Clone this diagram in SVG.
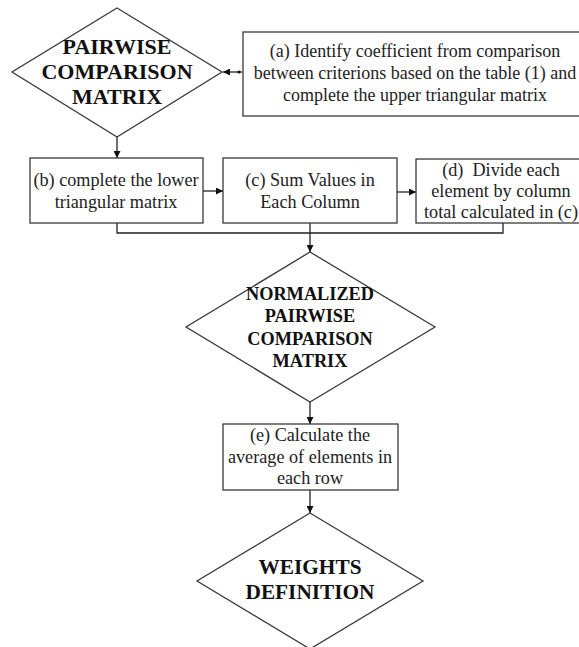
<svg xmlns="http://www.w3.org/2000/svg" width="579" height="647" viewBox="0 0 579 647">
<defs>
<style>
.shape{fill:#fff;stroke:#3a3a3a;stroke-width:1.3}
.con{fill:none;stroke:#222;stroke-width:1.3}
.t{font-family:"Liberation Serif","Times New Roman",serif;font-size:18.2px;fill:#222;text-anchor:middle}
.b{font-family:"Liberation Serif","Times New Roman",serif;font-weight:bold;fill:#111;text-anchor:middle}
</style>
<marker id="ah" viewBox="0 0 10 10" refX="10" refY="5" markerWidth="7" markerHeight="7" markerUnits="userSpaceOnUse" orient="auto">
<path d="M0,0 L10,5 L0,10 z" fill="#111"/>
</marker>
</defs>
<rect width="579" height="647" fill="#fff"/>
<g id="connectors">
<line class="con" x1="242" y1="72" x2="223" y2="72" marker-end="url(#ah)"/>
<circle cx="239" cy="72" r="1.6" fill="#111"/>
<line class="con" x1="117" y1="137" x2="117" y2="158" marker-end="url(#ah)"/>
<line class="con" x1="203" y1="191" x2="223" y2="191" marker-end="url(#ah)"/>
<line class="con" x1="397" y1="192" x2="416" y2="192" marker-end="url(#ah)"/>
<polyline class="con" points="117,223 117,233 503,233 503,223"/>
<line class="con" x1="310" y1="223" x2="310" y2="252" marker-end="url(#ah)"/>
<line class="con" x1="310" y1="402" x2="310" y2="424" marker-end="url(#ah)"/>
<line class="con" x1="310" y1="490" x2="310" y2="513" marker-end="url(#ah)"/>
</g>
<g id="pairwise">
<polygon class="shape" points="117,8 222,72 117,137 12,72"/>
<text class="b" style="font-size:22px" x="117" y="54">PAIRWISE</text>
<text class="b" style="font-size:22px" x="117" y="79">COMPARISON</text>
<text class="b" style="font-size:22px" x="117" y="104">MATRIX</text>
</g>
<g id="step-a">
<rect class="shape" x="243" y="32" width="340" height="84"/>
<text class="t" style="font-size:18px" x="415" y="57">(a) Identify coefficient from comparison</text>
<text class="t" style="font-size:18px" x="415" y="79">between criterions based on the table (1) and</text>
<text class="t" style="font-size:18px" x="415" y="101">complete the upper triangular matrix</text>
</g>
<g id="step-b">
<rect class="shape" x="30" y="158" width="173" height="65"/>
<text class="t" x="116" y="186">(b) complete the lower</text>
<text class="t" x="116" y="208">triangular matrix</text>
</g>
<g id="step-c">
<rect class="shape" x="223" y="158" width="174" height="65"/>
<text class="t" x="310" y="186">(c) Sum Values in</text>
<text class="t" x="310" y="208">Each Column</text>
</g>
<g id="step-d">
<rect class="shape" x="416" y="159" width="170" height="64"/>
<text class="t" x="501" y="176" xml:space="preserve">(d)  Divide each</text>
<text class="t" x="501" y="197">element by column</text>
<text class="t" x="501" y="218">total calculated in (c)</text>
</g>
<g id="normalized">
<polygon class="shape" points="310,252 435,327 310,402 186,327"/>
<text class="b" style="font-size:18.3px" x="310" y="300">NORMALIZED</text>
<text class="b" style="font-size:18.3px" x="310" y="322">PAIRWISE</text>
<text class="b" style="font-size:18.3px" x="310" y="345">COMPARISON</text>
<text class="b" style="font-size:18.3px" x="310" y="367">MATRIX</text>
</g>
<g id="step-e">
<rect class="shape" x="223" y="424" width="175" height="66"/>
<text class="t" x="310" y="441">(e) Calculate the</text>
<text class="t" x="310" y="463">average of elements in</text>
<text class="t" x="310" y="484">each row</text>
</g>
<g id="weights">
<polygon class="shape" points="310,513 423,581 310,649 197,581"/>
<text class="b" style="font-size:21.3px" x="310" y="574">WEIGHTS</text>
<text class="b" style="font-size:21.3px" x="310" y="599">DEFINITION</text>
</g>
</svg>
